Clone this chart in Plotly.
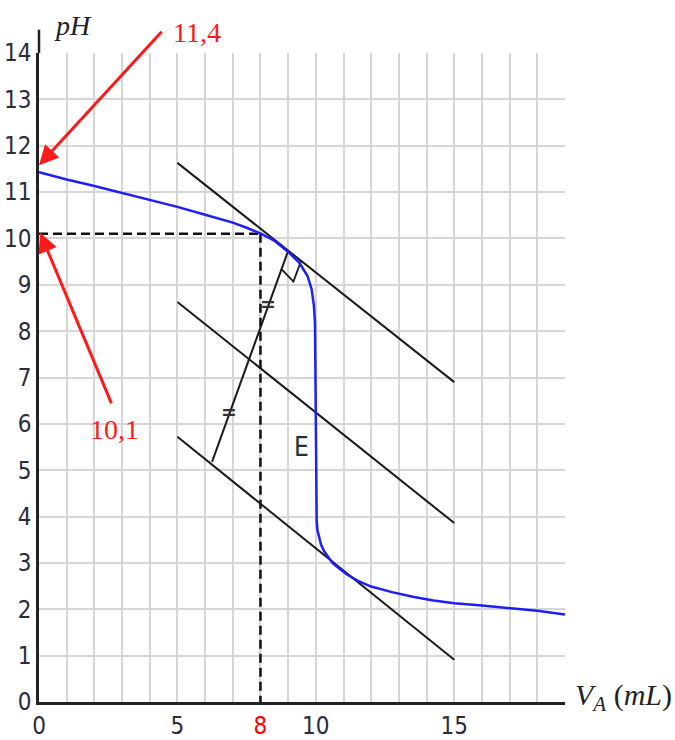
import plotly.graph_objects as go

# titration curve pH = f(V_A)
v_acid = [0, 1, 2, 3, 4, 5, 6, 7, 7.5, 8, 8.5, 9, 9.4, 9.7, 9.85, 9.93, 9.97,
          10.0, 10.01, 10.03, 10.06, 10.11, 10.19, 10.3, 10.45, 10.6, 10.8,
          11.1, 11.5, 12, 12.75, 13.5, 14.25, 15, 16, 17, 18, 19]
ph = [11.43, 11.27, 11.13, 10.98, 10.83, 10.68, 10.51, 10.34, 10.23, 10.11,
      9.95, 9.71, 9.48, 9.19, 8.90, 8.55, 8.17,
      5.5, 4.4, 3.9, 3.7, 3.57, 3.39, 3.25, 3.12, 3.0, 2.9,
      2.76, 2.62, 2.49, 2.37, 2.27, 2.19, 2.13, 2.08, 2.02, 1.97, 1.89]

# the three parallel tangents (method of tangents)
tangent_x = [5, 15]
tangent_top = [11.63, 6.90]
tangent_mid = [8.63, 3.86]
tangent_bot = [5.72, 0.91]

# perpendicular segment and its right-angle mark
perp_x = [6.25, 9.01]
perp_y = [5.18, 9.75]
square_x = [8.77, 9.19, 9.47]
square_y = [9.33, 9.07, 9.52]
equal_marks_x = [8.28, 6.88]
equal_marks_y = [8.59, 6.26]

# equivalence point read-out
v_eq_half = 8
ph_half = 10.1
ph_start = 11.4

x_ticks = [0, 5, 8, 10, 15]
x_labels = ["0", "5", '<span style="color:red">8</span>', "10", "15"]

TICK_FONT = "Liberation Sans Narrow, DejaVu Sans Condensed, Arial Narrow, Liberation Sans, sans-serif"
SERIF = "Liberation Serif, Times New Roman, serif"
GRID = "#d6d6d6"

fig = go.Figure()

# dashed read-out lines
fig.add_trace(go.Scatter(x=[0, v_eq_half], y=[ph_half, ph_half], mode="lines",
                         line=dict(color="#111", width=2.5, dash="9px,5px")))
fig.add_trace(go.Scatter(x=[v_eq_half, v_eq_half], y=[ph_half, 0], mode="lines",
                         line=dict(color="#111", width=2.5, dash="9px,5px")))

for ty in [tangent_top, tangent_mid, tangent_bot]:
    fig.add_trace(go.Scatter(x=tangent_x, y=ty, mode="lines",
                             line=dict(color="#1a1a1a", width=2)))

fig.add_trace(go.Scatter(x=perp_x, y=perp_y, mode="lines",
                         line=dict(color="#1a1a1a", width=2)))
fig.add_trace(go.Scatter(x=square_x, y=square_y, mode="lines",
                         line=dict(color="#1a1a1a", width=1.8)))

fig.add_trace(go.Scatter(x=v_acid, y=ph, mode="lines",
                         line=dict(color="rgb(30,30,250)", width=2.5)))

for mx, my in zip(equal_marks_x, equal_marks_y):
    fig.add_annotation(x=mx, y=my, text="<b>=</b>", showarrow=False,
                       font=dict(family="DejaVu Sans, sans-serif", size=19, color="#333"))

fig.add_annotation(x=9.49, y=5.51, text="E", showarrow=False,
                   font=dict(family=TICK_FONT, size=26, color="#223040"))

# red arrows pointing to the y-axis
fig.add_annotation(x=0, y=ph_start + 0.18, ax=124, ay=-135, text="",
                   showarrow=True, arrowhead=2, arrowsize=1.3, arrowwidth=3,
                   arrowcolor="#ff1a1a", standoff=0)
fig.add_annotation(x=0.04, y=ph_half + 0.02, ax=72, ay=172, text="",
                   showarrow=True, arrowhead=2, arrowsize=1.3, arrowwidth=3,
                   arrowcolor="#ff1a1a", standoff=0)
fig.add_annotation(xref="paper", yref="paper", x=0.300, y=1.031,
                   xanchor="center", yanchor="middle",
                   text=str(ph_start).replace(".", ","), showarrow=False,
                   font=dict(family=SERIF, size=28, color="#ff1a1a"))
fig.add_annotation(x=2.71, y=5.87, text=str(ph_half).replace(".", ","),
                   xanchor="center", yanchor="middle", showarrow=False,
                   font=dict(family=SERIF, size=28, color="#ff1a1a"))

# axis titles
fig.add_annotation(xref="paper", yref="paper", x=0.065, y=1.042,
                   xanchor="center", yanchor="middle",
                   text="<i>pH</i>", showarrow=False,
                   font=dict(family=SERIF, size=28, color="#222"))
fig.add_annotation(xref="paper", yref="paper", x=1.112, y=0.008,
                   xanchor="center", yanchor="middle",
                   text="<i>V<sub>A</sub></i> (<i>mL</i>)", showarrow=False,
                   font=dict(family=SERIF, size=30, color="#222"))

# y-axis line goes a bit above 14
fig.add_shape(type="line", xref="paper", yref="paper", x0=0, x1=0,
              y0=1, y1=1.036, line=dict(color="#222", width=2.5))

fig.update_layout(
    width=675, height=740,
    margin=dict(l=39, r=110, t=53, b=38),
    plot_bgcolor="white", paper_bgcolor="white",
    showlegend=False,
)
fig.update_xaxes(range=[0, 19], tickvals=x_ticks, ticktext=x_labels, automargin=False,
                 showgrid=True, gridcolor=GRID, gridwidth=2,
                 minor=dict(tick0=0, dtick=1, showgrid=True, gridcolor=GRID, gridwidth=2),
                 showline=True, linecolor="#222", linewidth=2.5, zeroline=False,
                 ticks="", 
                 tickfont=dict(family=TICK_FONT, size=24, color="#2b2b3b"))
fig.update_yaxes(range=[0, 14], tick0=0, dtick=1, automargin=False,
                 showgrid=True, gridcolor=GRID, gridwidth=2,
                 showline=True, linecolor="#222", linewidth=2.5, zeroline=False,
                 ticks="", 
                 tickfont=dict(family=TICK_FONT, size=24, color="#2b2b3b"))

# drop the page's default 8px body margin so the figure fills the window
fig.write_html("out.html", config={"displayModeBar": False},
               post_script="document.body.style.margin = '0px';")
